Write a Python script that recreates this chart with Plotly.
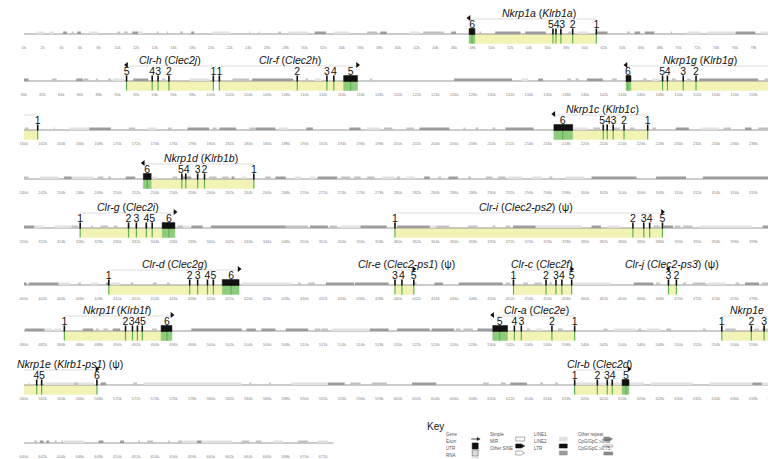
import plotly.graph_objects as go

W, H = 776, 459
ROW_KB = 80
N_ROWS = 9
SEQ_END = 673.1
ROW_BASE = [26, 73, 122, 171, 220, 277, 323, 377, 435]
X0, X1 = 12, 768

# ---------------- data (kb) ----------------
gene_ids = ["Nkrp1a", "Clr-h", "Clr-f", "Nkrp1g", "Nkrp1c", "Nkrp1d", "Clr-g", "Clr-i",
            "Clr-d", "Clr-e", "Clr-c", "Clr-j", "Nkrp1f", "Clr-a", "Nkrp1e", "Clr-b"]
gene_strand = ["-", "-", "+", "-", "-", "-", "+", "+", "+", "+", "+", "-", "+", "-", "+", "+"]
gene_span = [(47.60, 61.21), (90.98, 100.26), (100.90, 115.67), (144.38, 161.48),
             (216.67, 226.70), (252.77, 264.59), (326.02, 336.15), (359.68, 388.28),
             (409.08, 423.01), (439.68, 441.69), (452.35, 458.57), (468.92, 469.77),
             (484.33, 495.83), (530.13, 538.89), (554.62, 567.81), (618.89, 624.70)]
gene_last_exon = [(47.60, 48.23), None, (114.19, 115.67), (144.38, 144.91),
                  (216.67, 218.68), (252.77, 253.61), (334.78, 336.15), None,
                  (421.21, 423.01), None, None, None,
                  (494.67, 495.83), (530.13, 531.71), None, (623.96, 624.70)]
exon_pos = [
    [47.92, 56.57, 56.89, 57.42, 58.68, 61.21],
    [90.98, 93.72, 94.35, 95.51, 100.26],
    [100.90, 109.23, 112.40, 113.14, 114.93],
    [144.59, 148.29, 148.81, 150.50, 151.87, 161.48],
    [217.62, 221.95, 222.37, 223.01, 224.17, 226.70],
    [253.19, 256.89, 257.31, 258.58, 259.31, 264.59],
    [326.02, 331.19, 332.03, 333.09, 333.72, 335.51],
    [359.68, 385.12, 386.28, 386.91, 388.28],
    [409.08, 417.73, 418.58, 419.63, 420.26, 422.16],
    [439.68, 440.42, 441.69],
    [452.35, 455.83, 456.89, 457.52, 458.57],
    [468.92, 469.77],
    [484.33, 490.87, 491.61, 492.14, 492.66, 495.30],
    [530.87, 532.45, 533.19, 536.46, 538.89],
    [554.62, 557.78, 559.15, 561.37, 561.90, 567.81],
    [618.89, 621.32, 622.38, 622.91, 624.38],
]
exon_num = [
    ["6", "5", "4", "3", "2", "1"],
    ["5", "4", "3", "2", "1"],
    ["1", "2", "3", "4", "5"],
    ["6", "5", "4", "3", "2", "1"],
    ["6", "5", "4", "3", "2", "1"],
    ["6", "5", "4", "3", "2", "1"],
    ["1", "2", "3", "4", "5", "6"],
    ["1", "2", "3", "4", "5"],
    ["1", "2", "3", "4", "5", "6"],
    ["3", "4", "5"],
    ["1", "2", "3", "4", "5"],
    ["3", "2"],
    ["1", "2", "3", "4", "5", "6"],
    ["5", "4", "3", "2", "1"],
    ["1", "2", "3", "4", "5", "6"],
    ["1", "2", "3", "4", "5"],
]
title_text = ["<i>Nkrp1a</i> (<i>Klrb1a</i>)", "<i>Clr-h</i> (<i>Clec2j</i>)",
              "<i>Clr-f</i> (<i>Clec2h</i>)", "<i>Nkrp1g</i> (<i>Klrb1g</i>)",
              "<i>Nkrp1c</i> (<i>Klrb1c</i>)", "<i>Nkrp1d</i> (<i>Klrb1b</i>)",
              "<i>Clr-g</i> (<i>Clec2i</i>)", "<i>Clr-i</i> (<i>Clec2-ps2</i>) (ψ)",
              "<i>Clr-d</i> (<i>Clec2g</i>)", "<i>Clr-e</i> (<i>Clec2-ps1</i>) (ψ)",
              "<i>Clr-c</i> (<i>Clec2f</i>)", "<i>Clr-j</i> (<i>Clec2-ps3</i>) (ψ)",
              "<i>Nkrp1f</i> (<i>Klrb1f</i>)", "<i>Clr-a</i> (<i>Clec2e</i>)",
              "<i>Nkrp1e</i>", "<i>Nkrp1e</i> (<i>Klrb1-ps1</i>) (ψ)",
              "<i>Clr-b</i> (<i>Clec2d</i>)"]
title_kb = [55.09, 95.62, 108.5, 152.3, 221.85, 258.9, 331.08, 373.7, 416.15, 440.9,
            455.4, 469.3, 490.0, 534.8, 557.3, 564.96, 621.6]

rep_light = [
    (1.4, 2.2), (2.7, 3.2), (7.0, 7.9), (12.2, 12.7), (20.2, 22.0), (28.3, 30.4), (33.2, 34.8),
    (41.3, 42.3), (59.2, 60.3), (70.9, 72.4), (73.0, 76.1), (78.8, 79.9),
    (89.5, 90.7), (97.7, 99.8), (111.1, 111.8), (133.2, 133.9), (147.2, 147.9),
    (164.9, 167.0), (173.2, 174.2), (187.2, 188.3), (196.7, 198.1), (218.8, 220.3), (232.4, 234.3),
    (241.7, 243.7), (245.1, 247.4), (253.7, 254.2), (263.3, 263.7), (269.0, 269.6), (270.6, 271.2),
    (278.3, 279.6), (280.9, 281.8), (291.8, 293.3), (294.3, 295.4), (297.9, 299.9),
    (321.1, 322.1), (323.3, 325.1), (337.0, 337.7), (353.9, 356.0), (363.4, 364.1), (374.7, 379.6),
    (382.4, 383.8), (392.3, 397.9),
    (403.7, 404.9), (407.2, 407.9), (409.3, 410.3), (423.3, 428.6), (458.7, 462.8), (473.1, 475.0),
    (482.2, 483.0), (483.3, 484.0), (513.0, 517.0), (534.7, 535.4), (543.1, 545.4), (546.6, 548.0),
    (562.2, 567.5), (572.8, 583.3), (588.6, 592.5), (618.9, 626.3), (627.0, 631.5), (633.3, 637.9),
    (638.9, 640.0),
    (644.3, 646.4), (656.9, 658.5), (659.0, 662.3), (666.7, 667.7), (671.4, 672.5),
]
rep_mid = [
    (5.1, 5.3), (10.0, 10.3), (10.7, 11.1), (14.2, 14.4), (15.3, 15.4), (16.7, 17.0), (24.1, 24.2),
    (25.1, 25.2), (27.2, 27.5), (36.7, 37.8), (42.7, 44.9), (48.7, 48.9), (58.2, 58.5), (64.5, 64.8),
    (69.2, 69.3),
    (83.0, 83.5), (86.4, 86.9), (87.7, 87.9), (89.0, 89.3), (94.8, 95.1), (102.3, 104.1),
    (110.1, 110.4), (117.0, 117.2), (138.1, 138.5), (139.0, 139.3), (142.9, 143.4), (146.2, 146.6),
    (149.3, 149.7), (150.9, 151.3), (159.2, 159.9),
    (160.1, 160.5), (163.2, 163.3), (171.2, 171.9), (175.4, 175.8), (180.2, 180.6), (184.1, 184.8),
    (198.5, 199.4), (200.9, 201.7), (207.0, 207.2), (208.3, 208.6), (210.1, 210.4), (220.9, 221.6),
    (223.0, 223.7), (224.8, 225.3), (227.2, 227.6), (234.8, 235.6), (238.5, 239.9),
    (240.0, 240.5), (247.9, 248.5), (249.0, 249.3), (255.9, 256.4), (259.8, 260.6), (261.2, 261.9),
    (265.8, 266.4), (273.9, 274.9), (275.3, 276.0), (276.7, 277.5), (279.9, 280.2), (284.3, 284.6),
    (287.5, 287.8), (289.4, 290.1), (290.7, 291.5), (296.2, 296.5),
    (325.1, 325.8), (327.2, 327.4), (328.2, 329.0), (329.6, 330.0), (331.1, 331.3), (331.9, 332.1),
    (336.4, 337.0), (348.0, 350.4), (352.7, 353.5), (364.1, 365.5), (367.5, 368.5), (370.1, 370.4),
    (371.5, 372.0), (387.3, 388.0), (389.6, 390.2), (390.5, 391.5),
    (405.8, 406.1), (411.4, 411.7), (413.8, 414.2), (415.3, 415.6), (429.3, 429.6), (430.4, 431.1),
    (441.7, 442.0), (451.5, 452.0), (453.4, 453.9), (454.6, 455.4), (456.2, 456.5), (467.6, 468.0),
    (470.5, 470.8), (471.5, 472.9), (476.1, 476.5), (478.9, 480.0),
    (487.7, 488.0), (488.5, 489.0), (493.7, 494.2), (511.1, 511.7), (511.8, 512.5), (526.2, 526.7),
    (527.0, 528.0), (533.8, 534.1), (537.1, 537.6), (542.0, 542.4), (545.7, 546.0), (548.7, 549.2),
    (552.6, 552.9), (555.0, 556.1), (558.1, 558.6), (558.9, 559.8),
    (560.5, 560.6), (565.4, 565.8), (571.7, 572.1), (584.1, 584.3), (586.2, 586.4), (594.9, 596.0),
    (597.2, 598.8), (609.1, 609.7), (611.0, 611.5), (615.2, 615.5), (616.8, 617.1),
    (641.1, 641.4), (643.3, 643.5), (644.0, 644.2), (652.2, 652.4), (653.2, 653.8), (655.4, 655.6),
    (656.5, 656.9), (663.3, 664.1), (664.8, 665.4), (669.3, 670.4),
]
rep_dark = [
    (4.2, 4.6), (5.7, 6.1), (11.6, 12.2), (17.9, 18.2), (31.1, 32.3), (38.1, 38.8), (45.7, 46.2),
    (50.4, 53.1), (53.6, 55.8), (61.3, 62.4), (65.3, 65.9), (66.4, 67.4), (76.1, 78.2),
    (80.0, 80.5), (85.6, 86.3), (91.7, 93.3), (104.4, 108.8), (126.0, 132.2), (135.0, 135.5),
    (140.2, 141.9), (152.2, 158.5),
    (167.0, 169.3), (177.5, 179.8), (180.9, 182.7), (184.8, 186.9), (190.2, 190.9), (194.8, 196.0),
    (202.3, 205.5), (211.5, 214.5), (229.7, 231.1), (237.1, 237.8),
    (244.3, 245.1), (250.9, 251.9), (257.0, 257.9), (262.2, 262.5), (266.9, 268.0), (271.4, 273.5),
    (282.8, 283.4), (285.4, 286.4), (300.7, 305.5), (307.6, 310.8), (312.6, 320.0),
    (320.0, 321.1), (333.0, 333.2), (337.9, 339.1), (340.0, 348.0), (350.6, 352.5), (356.0, 358.8),
    (359.9, 363.4), (372.3, 374.7), (380.7, 381.7), (388.4, 389.4), (399.0, 400.0),
    (400.0, 400.3), (400.5, 403.7), (408.8, 409.1), (432.3, 435.3), (435.4, 439.0), (443.9, 444.8),
    (446.5, 451.2), (465.2, 467.3), (477.1, 478.6),
    (480.1, 482.2), (486.3, 487.4), (489.5, 490.3), (497.9, 503.3), (503.8, 504.8), (505.4, 506.9),
    (508.0, 510.4), (517.0, 519.0), (519.9, 523.4), (523.6, 526.0), (528.5, 530.1),
    (568.2, 568.8), (592.5, 594.3), (601.5, 604.1), (612.0, 613.8), (637.9, 638.9),
    (641.7, 642.1), (642.4, 642.7), (648.0, 648.5), (650.3, 650.7), (658.5, 659.0),
]

key_col_labels = [["Gene", "Exon", "UTR", "RNA"],
                  ["Simple", "MIR", "Other SINE"],
                  ["LINE1", "LINE2", "LTR"],
                  ["Other repeat", "CpG/GpC ≥0.60", "CpG/GpC ≥0.75"]]

# ---------------- styles ----------------
YELLOW = "#f3f3b5"
GREEN = "#8ccc7c"
GREEN_LINE = "#5fb34f"
LINE_C = "#999999"
REP_COLORS = {"light": "#e1e1e1", "mid": "#c2c2c2", "dark": "#9c9c9c"}
FONT = "Liberation Sans, Arial, sans-serif"


def axname(r):
    return "x" if r == 0 else f"x{r + 1}"


def split(s, e):
    out = []
    r0 = int(s // ROW_KB)
    r1 = int((e - 1e-9) // ROW_KB)
    for r in range(r0, min(r1, N_ROWS - 1) + 1):
        out.append((r, max(s, r * ROW_KB), min(e, (r + 1) * ROW_KB)))
    return out


def row_of(v):
    return min(int(v // ROW_KB), N_ROWS - 1)


fig = go.Figure()


def seg_traces(intervals, dy, color, width):
    rows = {}
    for s, e in intervals:
        for r, a, b in split(s, e):
            rows.setdefault(r, ([], []))
            rows[r][0].extend([a, b, None])
            yy = ROW_BASE[r] + dy
            rows[r][1].extend([yy, yy, None])
    for r, (xs, ys) in rows.items():
        fig.add_trace(go.Scatter(x=xs, y=ys, xaxis=axname(r), yaxis="y", mode="lines",
                                 line=dict(color=color, width=width), hoverinfo="skip",
                                 showlegend=False))


def box_traces(intervals, top, bot, color, outline=None):
    rows = {}
    for s, e in intervals:
        for r, a, b in split(s, e):
            rows.setdefault(r, ([], []))
            y0 = ROW_BASE[r] + top
            y1 = ROW_BASE[r] + bot
            rows[r][0].extend([a, b, b, a, a, None])
            rows[r][1].extend([y0, y0, y1, y1, y0, None])
    for r, (xs, ys) in rows.items():
        fig.add_trace(go.Scatter(x=xs, y=ys, xaxis=axname(r), yaxis="y", mode="lines",
                                 fill="toself", fillcolor=color,
                                 line=dict(color=outline or color, width=0.5),
                                 hoverinfo="skip", showlegend=False))


def vline_traces(points, top, bot, color, width):
    rows = {}
    for p in points:
        r = row_of(p)
        rows.setdefault(r, ([], []))
        rows[r][0].extend([p, p, None])
        rows[r][1].extend([ROW_BASE[r] + top, ROW_BASE[r] + bot, None])
    for r, (xs, ys) in rows.items():
        fig.add_trace(go.Scatter(x=xs, y=ys, xaxis=axname(r), yaxis="y", mode="lines",
                                 line=dict(color=color, width=width), hoverinfo="skip",
                                 showlegend=False))


# yellow gene bodies (exclusive of green terminal exon)
yellow = []
greens = []
for span, last in zip(gene_span, gene_last_exon):
    s, e = span
    if last is None:
        yellow.append((s, e))
    else:
        greens.append(last)
        if last[0] <= s + 1e-6:
            yellow.append((last[1], e))
        else:
            yellow.append((s, last[0]))
box_traces(yellow, 0, 9.5, YELLOW)
box_traces(greens, 0, 9.5, GREEN)
all_exons = [p for lst in exon_pos for p in lst]
vline_traces(all_exons, 0, 9.5, GREEN_LINE, 1.2)

# genome line
seg_traces([(0, SEQ_END)], 0, LINE_C, 1.1)
# repeats
seg_traces(rep_light, -1.2, REP_COLORS["light"], 2.6)
seg_traces(rep_mid, -1.2, REP_COLORS["mid"], 2.6)
seg_traces(rep_dark, -1.2, REP_COLORS["dark"], 2.6)

# thin gene lines above
seg_traces(gene_span, -15, "#d4d4d4", 0.8)
# exon ticks & terminal boxes
vline_traces(all_exons, -5.5, 0.5, "#111111", 1.6)
box_traces(greens, -5.5, 0.5, "#111111")

# strand arrows
for span, strand in zip(gene_span, gene_strand):
    p = span[1] if strand == "+" else span[0]
    r = row_of(p if strand == "-" else p - 1e-6)
    fig.add_trace(go.Scatter(x=[p], y=[ROW_BASE[r] - 16], xaxis=axname(r), yaxis="y",
                             mode="markers",
                             marker=dict(symbol="triangle-right" if strand == "+" else "triangle-left",
                                         size=5, color="#111111"),
                             hoverinfo="skip", showlegend=False))

# exon number labels (spread to avoid overlap)
MIN_SEP = 0.6
lab_rows = {}
for pos, nums in zip(exon_pos, exon_num):
    order = sorted(range(len(pos)), key=lambda i: pos[i])
    lx = [pos[i] for i in order]
    for _ in range(40):
        for k in range(len(lx) - 1):
            gap = lx[k + 1] - lx[k]
            if gap < MIN_SEP:
                d = (MIN_SEP - gap) / 2
                lx[k] -= d
                lx[k + 1] += d
    for k, i in enumerate(order):
        r = row_of(pos[i])
        lab_rows.setdefault(r, ([], [], []))
        lab_rows[r][0].append(lx[k])
        lab_rows[r][1].append(ROW_BASE[r] - 9)
        lab_rows[r][2].append(nums[i])
for r, (xs, ys, ts) in lab_rows.items():
    fig.add_trace(go.Scatter(x=xs, y=ys, text=ts, xaxis=axname(r), yaxis="y", mode="text",
                             textfont=dict(size=10.5, color="#111111", family=FONT),
                             textposition="middle center", cliponaxis=False,
                             hoverinfo="skip", showlegend=False))

# titles
for t, k in zip(title_text, title_kb):
    r = row_of(k)
    fig.add_annotation(x=k, y=ROW_BASE[r] - 21, xref=axname(r), yref="y", text=t,
                       showarrow=False, font=dict(size=10.5, color="#111111", family=FONT),
                       xanchor="center", yanchor="middle")

# axes
layout_axes = {}
for r in range(N_ROWS):
    start = r * ROW_KB
    stop = min(start + ROW_KB, int(SEQ_END // 2) * 2)
    tv = list(range(start, stop + 1, 2))
    ax = dict(domain=[X0 / W, X1 / W], range=[start, start + ROW_KB],
              tickvals=tv, ticktext=[f"{v}k" for v in tv],
              tickfont=dict(size=4, color="#8a8a8a", family=FONT),
              showgrid=False, zeroline=False, showline=False, ticks="",
              anchor="free", position=1 - (ROW_BASE[r] + 10) / H, fixedrange=True)
    if r > 0:
        ax["overlaying"] = "x"
    layout_axes["xaxis" if r == 0 else f"xaxis{r + 1}"] = ax

fig.update_layout(
    width=W, height=H, margin=dict(l=0, r=0, t=0, b=0),
    paper_bgcolor="white", plot_bgcolor="white",
    yaxis=dict(range=[H, 0], domain=[0, 1], visible=False, fixedrange=True),
    showlegend=False, **layout_axes,
)


# ---------------- key ----------------
def px(x):
    return x / W


def py(y):
    return 1 - y / H


fig.add_annotation(x=px(428), y=py(426), xref="paper", yref="paper", text="Key",
                   showarrow=False, font=dict(size=10, color="#222", family=FONT))
col_x = [436, 481, 525, 570]
row_y = [431, 438, 445, 452]
for cx, labs in zip(col_x, key_col_labels):
    for ry, lab in zip(row_y, labs):
        fig.add_annotation(x=px(cx), y=py(ry), xref="paper", yref="paper", text=lab,
                           showarrow=False, xanchor="left",
                           font=dict(size=4.5, color="#555", family=FONT))


def key_rect(x0, y0, x1, y1, fill, line="#777", lw=0.6):
    fig.add_shape(type="rect", xref="paper", yref="paper", x0=px(x0), x1=px(x1),
                  y0=py(y1), y1=py(y0), fillcolor=fill, line=dict(color=line, width=lw))


def key_flag(x0, y0, x1, y1, fill, line):
    xm = x0 + (x1 - x0) * 0.6
    ym = (y0 + y1) / 2
    path = (f"M {px(x0)} {py(y0)} L {px(xm)} {py(y0)} L {px(x1)} {py(ym)} "
            f"L {px(xm)} {py(y1)} L {px(x0)} {py(y1)} Z")
    fig.add_shape(type="path", xref="paper", yref="paper", path=path, fillcolor=fill,
                  line=dict(color=line, width=0.6))


# gene arrow
fig.add_shape(type="line", xref="paper", yref="paper", x0=px(464), x1=px(471),
              y0=py(431), y1=py(431), line=dict(color="#222", width=0.8))
fig.add_shape(type="path", xref="paper", yref="paper",
              path=f"M {px(470)} {py(429.5)} L {px(473)} {py(431)} L {px(470)} {py(432.5)} Z",
              fillcolor="#222", line=dict(color="#222", width=0.5))
key_rect(465, 435, 471, 441, "#111", "#111")
key_rect(465, 442, 471, 448, "#dcdcdc", "#666")
key_rect(465, 449, 471, 455, "#f7f7f7", "#ccc")
key_rect(509, 429, 518, 433, "white", "#777")
key_flag(509, 436, 518, 440, "#111", "#111")
key_flag(509, 443, 518, 447, "white", "#777")
key_rect(553, 429, 561, 433, "#e2e2e2", "#e2e2e2")
key_rect(553, 436, 561, 440, "#111", "#111")
key_rect(553, 443, 561, 447, "#999", "#999")
key_flag(598, 429, 607, 433, "#888", "#888")
key_rect(598, 437, 607, 439, "white", "#888")
key_rect(598, 444, 607, 447, "#888", "#888")

fig.write_html("out.html")
